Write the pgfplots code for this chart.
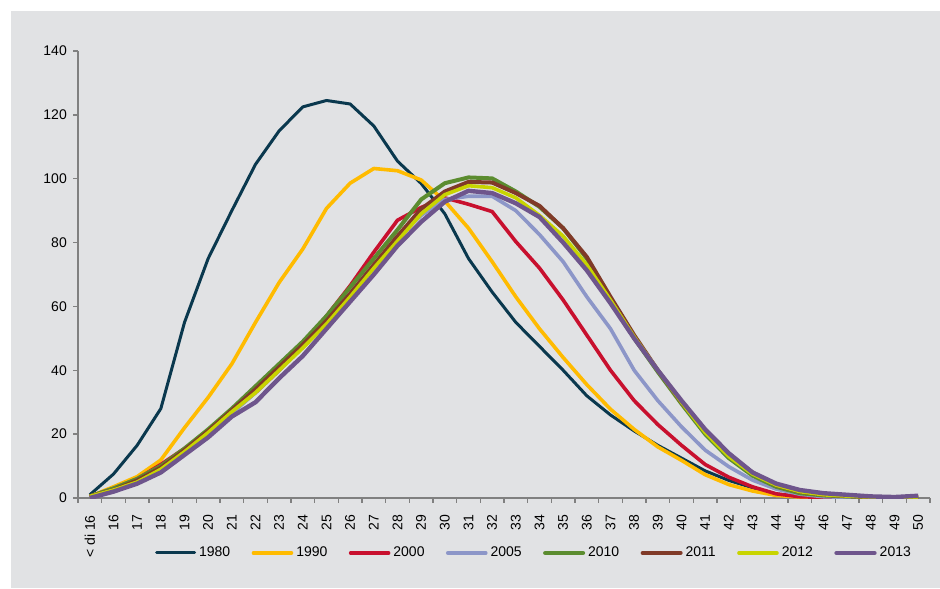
\documentclass[border=0pt]{standalone}
\usepackage{pgfplots}
\usepackage{pgfplotstable}
\pgfplotsset{compat=1.18}
\usepackage{fontspec}
\setmainfont{Liberation Sans}
\definecolor{bg}{RGB}{225,226,228}
\definecolor{axgray}{RGB}{128,128,128}
\definecolor{c1980}{RGB}{10,56,78}
\definecolor{c1990}{RGB}{255,187,0}
\definecolor{c2000}{RGB}{200,16,46}
\definecolor{c2005}{RGB}{140,150,200}
\definecolor{c2010}{RGB}{91,140,47}
\definecolor{c2011}{RGB}{128,58,40}
\definecolor{c2012}{RGB}{200,212,0}
\definecolor{c2013}{RGB}{110,85,140}
\pgfplotstableread{
x  a1980 a1990 a2000 a2005 a2010 a2011 a2012 a2013
0  1     0.5   0.5   0.5   0.5   0.5   0.5   0
1  7.5   3.5   3     3     3     2.5   2.5   2
2  16.5  6.7   6     6     6     5.5   5     4.5
3  28    11.9  10.5  10    10    9.5   9     8
4  55    22    15.5  15    15.5  15    14.5  13.5
5  75    31.5  21    20.5  21.5  21    20.5  19
6  90    42    27    26.5  28    27.5  27    25.5
7  104.5 55    33    33    35    34    33    30
8  115   67.5  40    40    42    41    40    37.5
9  122.5 78    48    47.5  49    48    47    44.5
10 124.5 90.7  57    55.5  57    55.5  54.5  53
11 123.4 98.6  66.5  64    66    64    63    61.5
12 116.5 103.2 77    73    75    73    72    70
13 105.5 102.5 87    81.5  84    82    80.5  79
14 98.5  99.6  91    88.5  93.5  90.5  89    86.5
15 89    93    94    93.5  98.6  96    95    92.8
16 75    84.5  92    94.5  100.4 99    97.8  96.2
17 64.5  74    89.7  94.5  100.1 98.8  97.2  95.5
18 55    63    80.3  90    96    95.5  94    92.3
19 47.5  53    72    82.5  91.2  91.5  88.5  88
20 40    44    62    74    84.5  84.5  82    80
21 32    35.5  51    63    75    75.5  73    71.3
22 26    27.8  40    53    62.5  63    62    61
23 21    21.5  30.5  40    50    51    50.5  50
24 16.5  16    23    30.5  39.5  40    40    40
25 12.5  11.8  16.5  22.3  29.5  30    30    30.5
26 8.5   7.3   10.5  15    20    21    20.5  21.5
27 5.5   4.2   6.5   9.8   12.5  13.5  13    14
28 3.2   2.2   3.5   5.6   7     8     7.5   8
29 1.3   0.8   1.3   2.8   3.5   4     4     4.5
30 0.4   0.3   0.4   1.2   1.5   2     2     2.5
31 0.2   0.1   0.2   0.4   0.8   1     1     1.5
32 0.1   0.1   0.1   0.2   0.5   0.6   0.6   1
33 0     0     0     0.1   0.3   0.3   0.3   0.5
34 0     0     0     0     0.2   0.2   0.2   0.3
35 0.2   0.1   0.1   0.2   0.3   0.3   0.3   0.7
}\data
\begin{document}
\begin{tikzpicture}[x=1pt,y=1pt]
\path[use as bounding box] (0,0) rectangle (470,294);
\fill[white] (0,0) rectangle (470,294);
\fill[bg] (5.5,0) rectangle (470,288.5);
\begin{axis}[
  at={(39pt,45pt)}, anchor=south west,
  scale only axis, width=426pt, height=223.5pt,
  xmin=-0.5, xmax=35.5, ymin=0, ymax=140,
  axis x line=bottom, axis y line=left,
  axis line style={-, draw=axgray, line width=0.65pt},
  tick align=outside,
  xtick={0,...,35},
  xticklabels={< di 16,16,17,18,19,20,21,22,23,24,25,26,27,28,29,30,31,32,33,34,35,36,37,38,39,40,41,42,43,44,45,46,47,48,49,50},
  major x tick style={draw=none},
  minor xtick={-0.5,0.5,...,35.5},
  minor x tick style={draw=axgray, line width=0.65pt},
  minor tick length=2.4pt,
  ytick={0,20,...,140},
  major y tick style={draw=axgray, line width=0.65pt},
  major tick length=2.4pt,
  xticklabel style={rotate=90, anchor=east, font=\fontsize{7}{8}\selectfont, inner sep=0pt},
  xticklabel shift=6pt,
  yticklabel style={font=\fontsize{7}{8}\selectfont, inner sep=0pt},
  yticklabel shift=3pt,
  /pgf/number format/assume math mode=true,
  legend columns=8,
  legend style={draw=none, fill=none, at={(0.5358,-0.123)}, anchor=center,
    font=\fontsize{7}{8}\selectfont, inner sep=0pt,
    nodes={inner xsep=1.5pt, inner ysep=1pt},
    /tikz/every even column/.append style={column sep=9.2pt}},
  legend image code/.code={\draw[#1, line cap=round] (0pt,0pt) -- (19pt,0pt);},
  every axis plot/.append style={line join=round},
]
\addplot[c1980, line width=1.5pt] table[x=x,y=a1980] {\data};
\addplot[c1990, line width=1.8pt] table[x=x,y=a1990] {\data};
\addplot[c2000, line width=1.8pt] table[x=x,y=a2000] {\data};
\addplot[c2005, line width=1.8pt] table[x=x,y=a2005] {\data};
\addplot[c2010, line width=2pt] table[x=x,y=a2010] {\data};
\addplot[c2011, line width=2pt] table[x=x,y=a2011] {\data};
\addplot[c2012, line width=1.8pt] table[x=x,y=a2012] {\data};
\addplot[c2013, line width=2.2pt] table[x=x,y=a2013] {\data};
\legend{1980,1990,2000,2005,2010,2011,2012,2013}
\end{axis}
\end{tikzpicture}
\end{document}
